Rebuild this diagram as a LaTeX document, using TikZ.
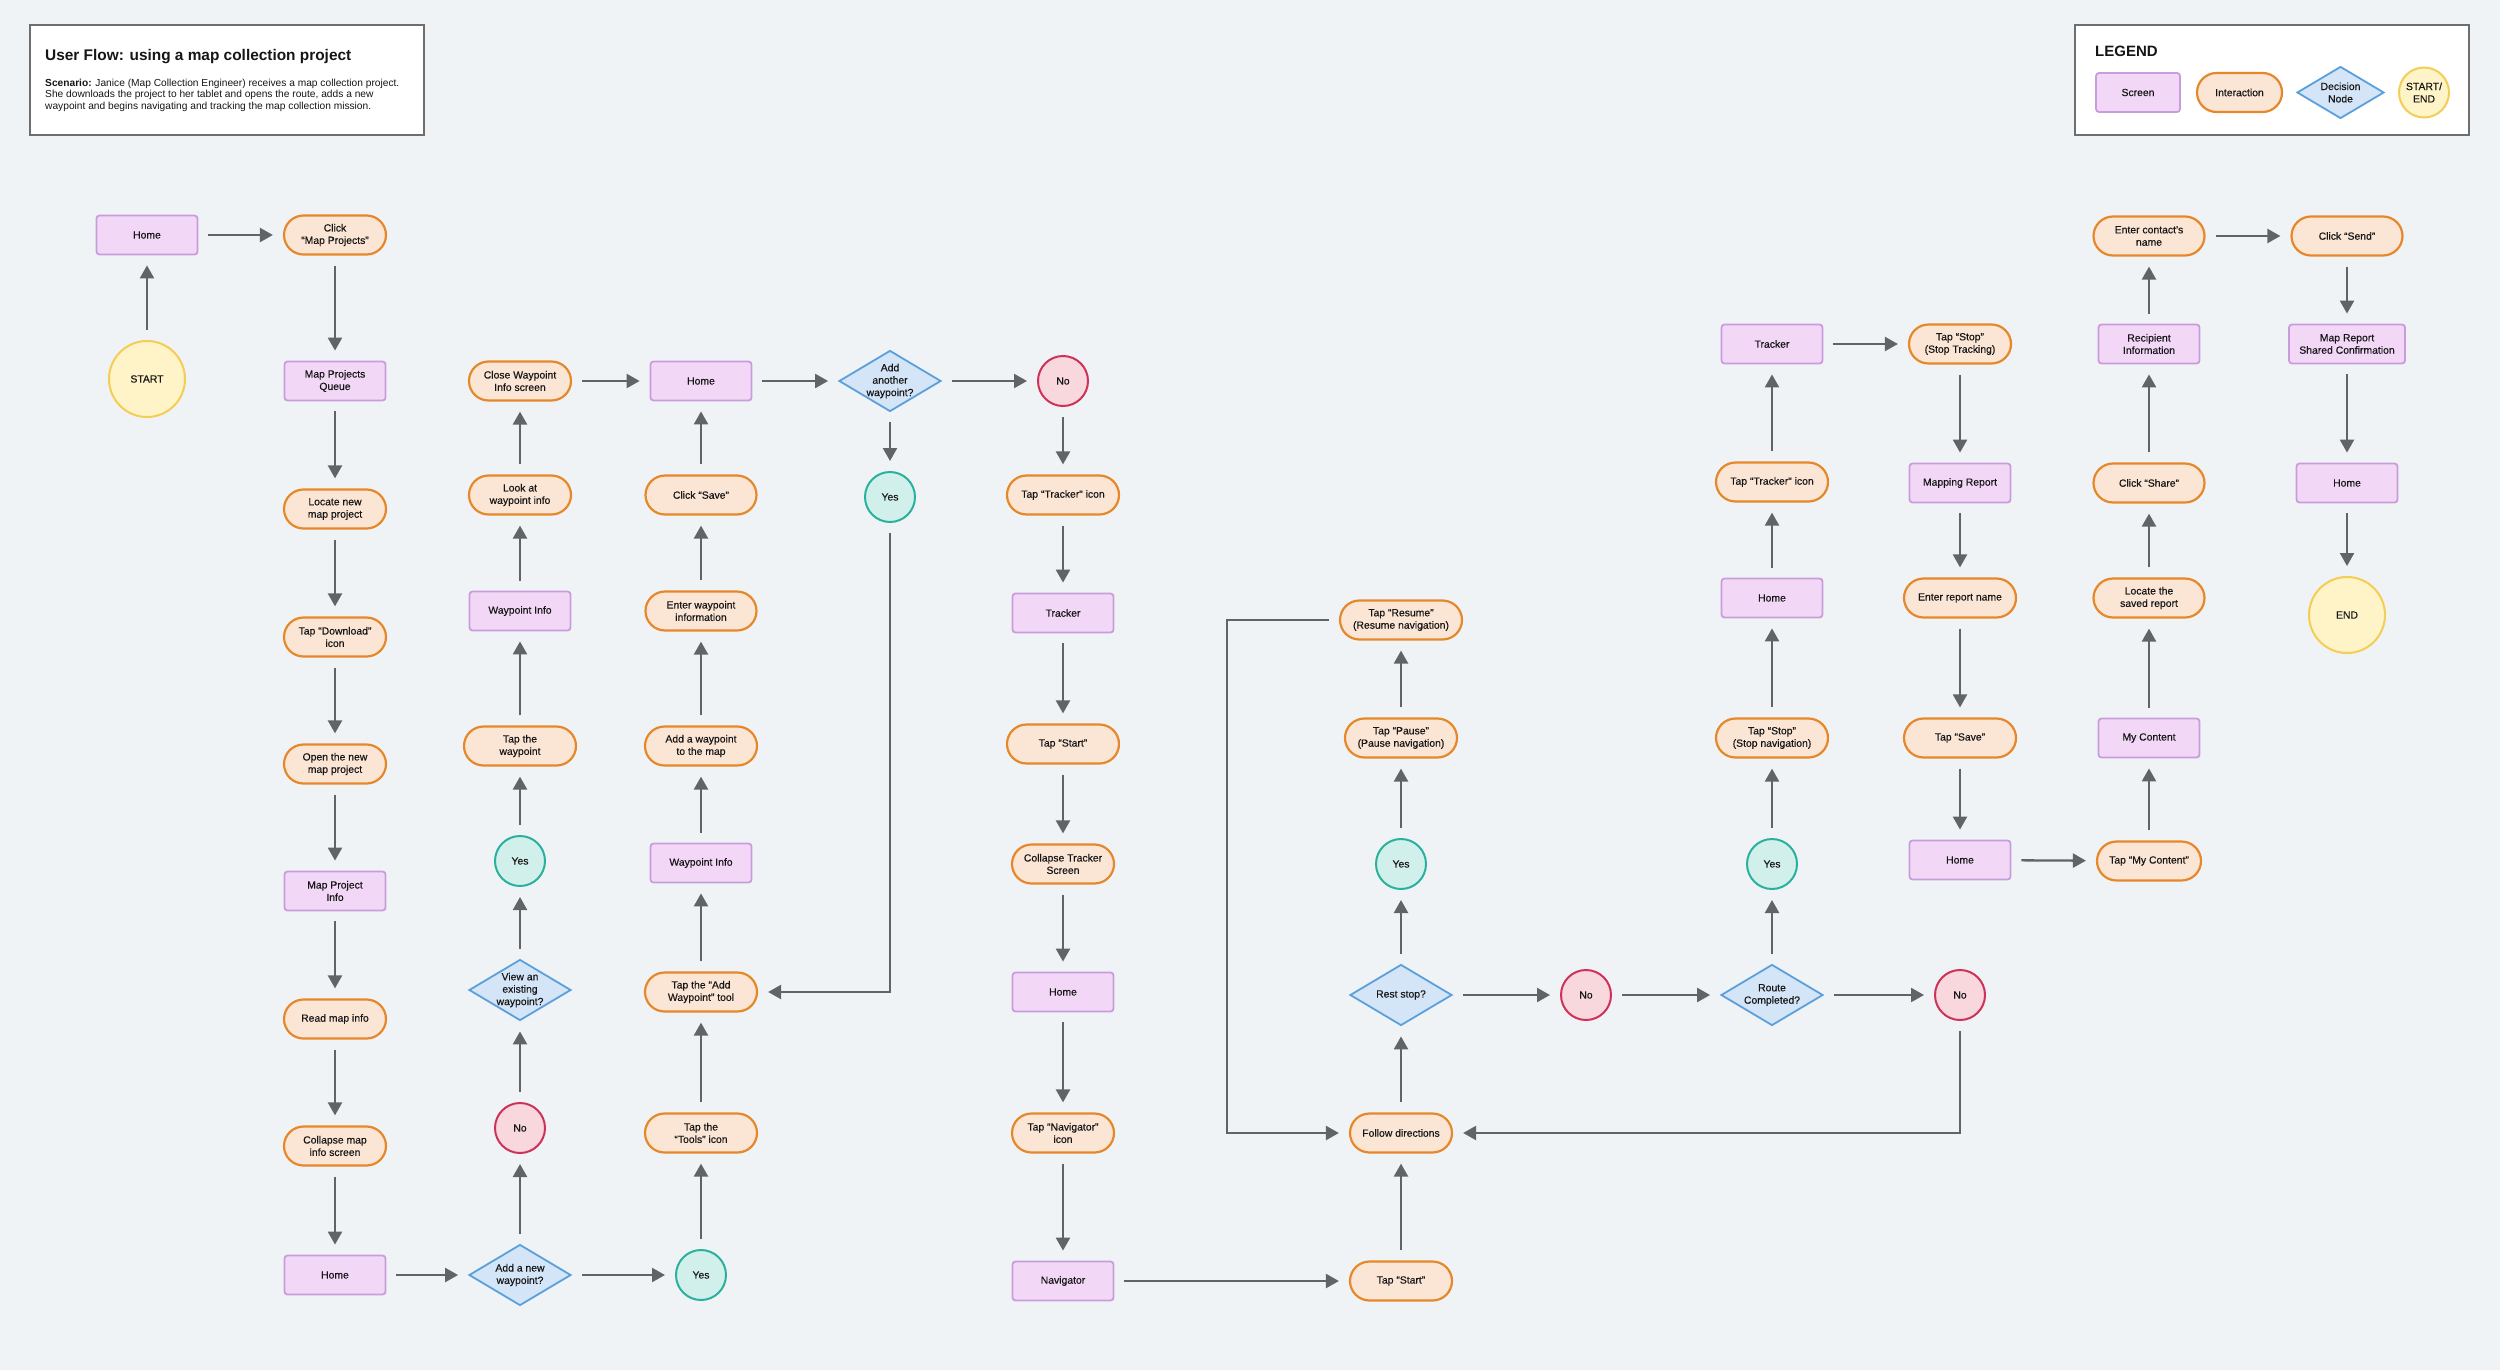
\documentclass[tikz,border=0pt]{standalone}
\usepackage{fontspec}
\setmainfont{Liberation Sans}
\newfontfamily\nodefam[FakeBold=0.35]{Liberation Sans}
\usetikzlibrary{arrows.meta,shapes.geometric,calc}
\definecolor{bg}{HTML}{F0F3F6}
\definecolor{scrF}{HTML}{F2D7F6}
\definecolor{scrD}{HTML}{C99CDB}
\definecolor{intF}{HTML}{FBE5D5}
\definecolor{intD}{HTML}{E6882A}
\definecolor{decF}{HTML}{D3E5F7}
\definecolor{decD}{HTML}{5B9FDB}
\definecolor{yesF}{HTML}{D1F0EB}
\definecolor{yesD}{HTML}{2AB19D}
\definecolor{noF}{HTML}{F8D7DD}
\definecolor{noD}{HTML}{CF3258}
\definecolor{seF}{HTML}{FFF4C8}
\definecolor{seD}{HTML}{F4CD55}
\definecolor{arr}{HTML}{606468}
\definecolor{boxD}{HTML}{6E6E6E}
\definecolor{txt}{HTML}{161616}
\newcommand{\nodefont}{\nodefam\fontsize{10.4}{12.4}\selectfont}
\tikzset{
  nd/.style={font=\nodefont, align=center, text=txt, inner sep=1pt},
  screen/.style={nd, rectangle, rounded corners=3pt, draw=scrD, fill=scrF, line width=1.8pt, minimum width=101pt, minimum height=39pt},
  inter/.style={nd, rectangle, rounded corners=19.5pt, draw=intD, fill=intF, line width=2.2pt, minimum width=102pt, minimum height=39pt},
  decision/.style={nd, diamond, draw=decD, fill=decF, line width=1.8pt, minimum width=102pt, minimum height=61pt, inner sep=0pt},
  yesc/.style={nd, circle, draw=yesD, fill=yesF, line width=2pt, minimum size=50pt, inner sep=0pt},
  noc/.style={nd, circle, draw=noD, fill=noF, line width=2pt, minimum size=50pt, inner sep=0pt},
  sec/.style={nd, circle, draw=seD, fill=seF, line width=2pt, minimum size=76pt, inner sep=0pt},
  infobox/.style={draw=boxD, fill=white, line width=2pt},
  flow/.style={draw=arr, line width=2.3pt, -{Triangle[length=13pt,width=14pt]}, shorten <=10pt, shorten >=10pt},
  dtext/.style={nd},
}
\begin{document}
\begin{tikzpicture}[x=1pt,y=-1pt]
\useasboundingbox (0,0) rectangle (2500,1370);
\fill[bg] (0,0) rectangle (2500,1370);

% title box
\draw[infobox] (30,25) rectangle (424,135);
\node[anchor=base west, inner sep=0, font=\fontsize{15.4}{18}\selectfont\bfseries, text=txt] (title) at (45,61) {User Flow: using a map collection project};
\node[anchor=north west, inner sep=0, align=left, font=\fontsize{10.2}{11.7}\selectfont, text=txt] (scen) at (45,78.5)
 {\textbf{Scenario:} Janice (Map Collection Engineer) receives a map collection project.\\
  She downloads the project to her tablet and opens the route, adds a new\\
  waypoint and begins navigating and tracking the map collection mission.};

% legend
\draw[infobox] (2075,25) rectangle (2469,135);
\node[anchor=base west, inner sep=0, font=\fontsize{15}{18}\selectfont\bfseries, text=txt] (legtitle) at (2095,57) {LEGEND};
\node[screen, minimum width=84pt] (lscreen) at (2138,92.5) {Screen};
\node[inter, minimum width=85pt] (linter) at (2239.5,92.5) {Interaction};
\node[decision, minimum width=87pt, minimum height=52pt, label={[dtext]center:Decision\\Node}] (ldec) at (2340.5,92.5) {};
\node[sec, minimum size=50pt] (lse) at (2424,92.5) {START/\\END};

% column 1
\node[screen] (home1) at (147,235) {Home};
\node[sec] (start) at (147,379) {START};

% column 2
\node[inter] (click) at (335,235) {Click\\“Map Projects”};
\node[screen] (mpq) at (335,381) {Map Projects\\Queue};
\node[inter] (locate) at (335,509) {Locate new\\map project};
\node[inter] (download) at (335,637) {Tap “Download”\\icon};
\node[inter] (open) at (335,764) {Open the new\\map project};
\node[screen] (mpinfo) at (335,891) {Map Project\\Info};
\node[inter] (read) at (335,1019) {Read map info};
\node[inter] (collapse) at (335,1146) {Collapse map\\info screen};
\node[screen] (home2) at (335,1275) {Home};

% column 3
\node[decision, label={[dtext]center:Add a new\\waypoint?}] (addnew) at (520,1275) {};
\node[noc] (no1) at (520,1128) {No};
\node[decision, label={[dtext]center:View an\\existing\\waypoint?}] (view) at (520,990) {};
\node[yesc] (yes1) at (520,861) {Yes};
\node[inter, minimum width=112pt] (tapwp) at (520,746) {Tap the\\waypoint};
\node[screen] (wpinfo1) at (520,611) {Waypoint Info};
\node[inter] (look) at (520,495) {Look at\\waypoint info};
\node[inter] (close) at (520,381) {Close Waypoint\\Info screen};

% column 4
\node[screen] (home3) at (701,381) {Home};
\node[inter, minimum width=111pt] (save) at (701,495) {Click “Save”};
\node[inter, minimum width=111pt] (enter) at (701,611) {Enter waypoint\\information};
\node[inter, minimum width=112pt] (addwp) at (701,746) {Add a waypoint\\to the map};
\node[screen] (wpinfo2) at (701,863) {Waypoint Info};
\node[inter, minimum width=112pt] (addtool) at (701,992) {Tap the “Add\\Waypoint” tool};
\node[inter, minimum width=112pt] (tools) at (701,1133) {Tap the\\“Tools” icon};
\node[yesc] (yes2) at (701,1275) {Yes};

% column 5
\node[decision, label={[dtext]center:Add\\another\\waypoint?}] (another) at (890,381) {};
\node[yesc] (yes3) at (890,497) {Yes};

% column 6
\node[noc] (no2) at (1063,381) {No};
\node[inter, minimum width=112pt] (taptracker) at (1063,495) {Tap “Tracker” icon};
\node[screen] (tracker1) at (1063,613) {Tracker};
\node[inter, minimum width=112pt] (tapstart1) at (1063,744) {Tap “Start”};
\node[inter] (colltr) at (1063,864) {Collapse Tracker\\Screen};
\node[screen] (home4) at (1063,992) {Home};
\node[inter] (tapnav) at (1063,1133) {Tap “Navigator”\\icon};
\node[screen] (navigator) at (1063,1281) {Navigator};

% column 7
\node[inter, minimum width=122pt] (resume) at (1401,620) {Tap “Resume”\\(Resume navigation)};
\node[inter, minimum width=112pt] (pause) at (1401,738) {Tap “Pause”\\(Pause navigation)};
\node[yesc] (yes4) at (1401,864) {Yes};
\node[decision, label={[dtext]center:Rest stop?}] (rest) at (1401,995) {};
\node[inter] (follow) at (1401,1133) {Follow directions};
\node[inter] (tapstart2) at (1401,1281) {Tap “Start”};
\node[noc] (no3) at (1586,995) {No};

% column 8
\node[screen] (tracker2) at (1772,344) {Tracker};
\node[inter, minimum width=112pt] (taptracker2) at (1772,482) {Tap “Tracker” icon};
\node[screen] (home5) at (1772,598) {Home};
\node[inter, minimum width=112pt] (stopnav) at (1772,738) {Tap “Stop”\\(Stop navigation)};
\node[yesc] (yes5) at (1772,864) {Yes};
\node[decision, label={[dtext]center:Route\\Completed?}] (route) at (1772,995) {};

% column 9
\node[inter] (stoptrack) at (1960,344) {Tap “Stop”\\(Stop Tracking)};
\node[screen] (mapreport) at (1960,483) {Mapping Report};
\node[inter, minimum width=112pt] (reportname) at (1960,598) {Enter report name};
\node[inter, minimum width=112pt] (tapsave) at (1960,738) {Tap “Save”};
\node[screen] (home6) at (1960,860) {Home};
\node[noc] (no4) at (1960,995) {No};

% column 10
\node[inter, minimum width=111pt] (contact) at (2149,236) {Enter contact’s\\name};
\node[screen] (recipient) at (2149,344) {Recipient\\Information};
\node[inter, minimum width=111pt] (share) at (2149,483) {Click “Share”};
\node[inter, minimum width=111pt] (locsaved) at (2149,598) {Locate the\\saved report};
\node[screen] (mycontent) at (2149,738) {My Content};
\node[inter, minimum width=104pt] (tapmy) at (2149,861) {Tap “My Content”};

% column 11
\node[inter, minimum width=111pt] (send) at (2347,236) {Click “Send”};
\node[screen, minimum width=116pt] (confirm) at (2347,344) {Map Report\\Shared Confirmation};
\node[screen] (home7) at (2347,483) {Home};
\node[sec] (endn) at (2347,615) {END};

% corner helper
\coordinate (loopx) at (1227,0);

% connectors
\draw[flow] (start) -- (home1);
\draw[flow] (home1) -- (click);
\draw[flow] (click) -- (mpq);
\draw[flow] (mpq) -- (locate);
\draw[flow] (locate) -- (download);
\draw[flow] (download) -- (open);
\draw[flow] (open) -- (mpinfo);
\draw[flow] (mpinfo) -- (read);
\draw[flow] (read) -- (collapse);
\draw[flow] (collapse) -- (home2);
\draw[flow] (home2) -- (addnew);
\draw[flow] (addnew) -- (no1);
\draw[flow] (no1) -- (view);
\draw[flow] (view) -- (yes1);
\draw[flow] (yes1) -- (tapwp);
\draw[flow] (tapwp) -- (wpinfo1);
\draw[flow] (wpinfo1) -- (look);
\draw[flow] (look) -- (close);
\draw[flow] (close) -- (home3);
\draw[flow] (addnew) -- (yes2);
\draw[flow] (yes2) -- (tools);
\draw[flow] (tools) -- (addtool);
\draw[flow] (addtool) -- (wpinfo2);
\draw[flow] (wpinfo2) -- (addwp);
\draw[flow] (addwp) -- (enter);
\draw[flow] (enter) -- (save);
\draw[flow] (save) -- (home3);
\draw[flow] (home3) -- (another);
\draw[flow] (another) -- (yes3);
\draw[flow] (yes3) |- (addtool);
\draw[flow] (another) -- (no2);
\draw[flow] (no2) -- (taptracker);
\draw[flow] (taptracker) -- (tracker1);
\draw[flow] (tracker1) -- (tapstart1);
\draw[flow] (tapstart1) -- (colltr);
\draw[flow] (colltr) -- (home4);
\draw[flow] (home4) -- (tapnav);
\draw[flow] (tapnav) -- (navigator);
\draw[flow] (navigator) -- (tapstart2);
\draw[flow] (tapstart2) -- (follow);
\draw[flow] (follow) -- (rest);
\draw[flow] (rest) -- (yes4);
\draw[flow] (yes4) -- (pause);
\draw[flow] (pause) -- (resume);
\draw[flow] (resume) -| (loopx |- follow) -- (follow);
\draw[flow] (rest) -- (no3);
\draw[flow] (no3) -- (route);
\draw[flow] (route) -- (yes5);
\draw[flow] (yes5) -- (stopnav);
\draw[flow] (stopnav) -- (home5);
\draw[flow] (home5) -- (taptracker2);
\draw[flow] (taptracker2) -- (tracker2);
\draw[flow] (tracker2) -- (stoptrack);
\draw[flow] (stoptrack) -- (mapreport);
\draw[flow] (mapreport) -- (reportname);
\draw[flow] (reportname) -- (tapsave);
\draw[flow] (tapsave) -- (home6);
\draw[flow] (home6) -- (tapmy);
\draw[flow] (tapmy) -- (mycontent);
\draw[flow] (mycontent) -- (locsaved);
\draw[flow] (locsaved) -- (share);
\draw[flow] (share) -- (recipient);
\draw[flow] (recipient) -- (contact);
\draw[flow] (contact) -- (send);
\draw[flow] (send) -- (confirm);
\draw[flow] (confirm) -- (home7);
\draw[flow] (home7) -- (endn);
\draw[flow] (route) -- (no4);
\draw[flow] (no4) |- (follow);
\end{tikzpicture}
\end{document}
